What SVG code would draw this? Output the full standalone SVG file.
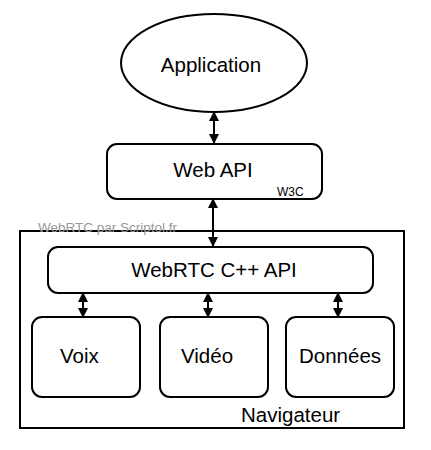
<svg xmlns="http://www.w3.org/2000/svg" width="431" height="450" viewBox="0 0 431 450">
<defs>
<style>
.n{fill:#fff;stroke:#000;stroke-width:2}
.t{font-family:"Liberation Sans",Arial,sans-serif;font-size:20.5px;fill:#000}
.c{stroke:#000;stroke-width:2;fill:none;marker-start:url(#ah);marker-end:url(#ah)}
</style>
<marker id="ah" viewBox="0 0 10 10" refX="9" refY="5" markerWidth="5" markerHeight="5" orient="auto-start-reverse" markerUnits="strokeWidth">
<path d="M0,0 L10,5 L0,10 Z" fill="#000"/>
</marker>
</defs>
<rect width="431" height="450" fill="#fff"/>
<g id="navigateur">
<rect x="20" y="231" width="384" height="197" fill="none" stroke="#000" stroke-width="2"/>
<text class="t" x="241" y="422">Navigateur</text>
</g>
<text x="38" y="232" font-family="'Liberation Sans',Arial,sans-serif" font-size="13.5" fill="#999">WebRTC par Scriptol.fr</text>
<g id="connectors">
<line class="c" x1="214" y1="112" x2="214" y2="143"/>
<line class="c" x1="213" y1="199" x2="213" y2="246"/>
<line class="c" x1="83" y1="293" x2="83" y2="317"/>
<line class="c" x1="208" y1="293" x2="208" y2="317"/>
<line class="c" x1="338" y1="293" x2="338" y2="317"/>
</g>
<g id="application">
<ellipse class="n" cx="214" cy="63" rx="93" ry="49"/>
<text class="t" x="211" y="72" text-anchor="middle">Application</text>
</g>
<g id="webapi">
<rect class="n" x="107" y="144" width="215" height="55" rx="10"/>
<text class="t" x="213" y="177" text-anchor="middle">Web API</text>
<text x="277" y="196" font-family="'Liberation Sans',Arial,sans-serif" font-size="12" fill="#000">W3C</text>
</g>
<g id="cppapi">
<rect class="n" x="48" y="247" width="325" height="46" rx="10"/>
<text class="t" x="214" y="277" text-anchor="middle">WebRTC C++ API</text>
</g>
<g id="voix">
<rect class="n" x="32" y="317" width="108" height="80" rx="10"/>
<text class="t" x="60" y="363">Voix</text>
</g>
<g id="video">
<rect class="n" x="160" y="317" width="108" height="80" rx="10"/>
<text class="t" x="181" y="363">Vidéo</text>
</g>
<g id="donnees">
<rect class="n" x="286" y="317" width="108" height="80" rx="10"/>
<text class="t" x="299" y="363">Données</text>
</g>
</svg>
